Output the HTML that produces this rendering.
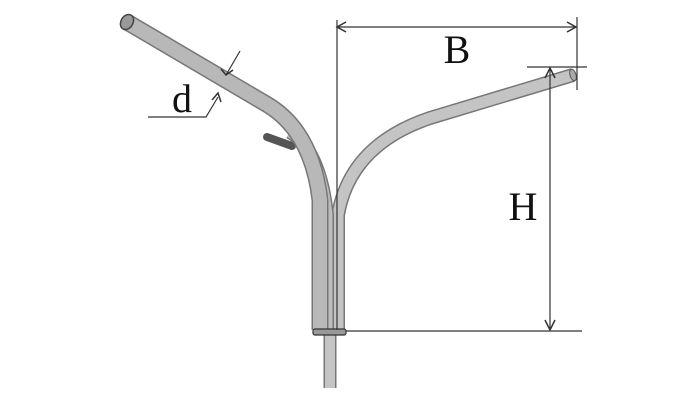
<!DOCTYPE html>
<html><head><style>body{margin:0;background:#fff}svg{display:block}</style></head>
<body><svg width="700" height="400" viewBox="0 0 700 400" xmlns="http://www.w3.org/2000/svg">
<g fill="none" stroke-linecap="butt">
<path d="M330 335 L330 388" stroke="#777" stroke-width="13"/>
<path d="M330 335 L330 388" stroke="#c4c4c4" stroke-width="10"/>
<path d="M267 137 L292 146" stroke="#555" stroke-width="8" stroke-linecap="round"/>
<path d="M573 75 L430 118 Q350 145 338 215 L338 330" stroke="#777" stroke-width="14"/>
<path d="M573 75 L430 118 Q350 145 338 215 L338 330" stroke="#c4c4c4" stroke-width="11"/>
<path d="M290 132 Q320 150 327 215 L327 330" stroke="#777" stroke-width="14"/>
<path d="M290 132 Q320 150 327 215 L327 330" stroke="#bdbdbd" stroke-width="11"/>
<path d="M127 22 L268 105 Q312 132 320 200 L320 330" stroke="#777" stroke-width="17"/>
<path d="M127 22 L268 105 Q312 132 320 200 L320 330" stroke="#b8b8b8" stroke-width="14"/>
<ellipse cx="127" cy="22" rx="6" ry="8" transform="rotate(31 127 22)" fill="#999" stroke="#444" stroke-width="1.5"/>
<ellipse cx="573" cy="75" rx="3" ry="6" transform="rotate(-17 573 75)" fill="#aaa" stroke="#555"/>
<rect x="313" y="329" width="33" height="6" rx="2" fill="#999" stroke="#333" stroke-width="1.2"/>
<g stroke="#333" stroke-width="1.2">
<path d="M337 20 L337 330"/>
<path d="M337 27 L576 27"/>
<path d="M577 17 L577 90"/>
<path d="M527 67 L587 67"/>
<path d="M550 68 L550 330"/>
<path d="M346 331 L582 331"/>
<path d="M346 22 L337 27 L346 32 M567 22 L576 27 L567 32" stroke-width="1.5"/>
<path d="M545 78 L550 68 L555 78 M545 320 L550 330 L555 320" stroke-width="1.5"/>
<path d="M148 117 L206 117 L218 97"/>
<path d="M240 51 L226 75"/>
<path d="M221 69 L226 75 L233 70" stroke-width="1.5"/>
<path d="M212 100 L218 93 L221 102" stroke-width="1.5"/>
</g>
</g>
<g font-family="Liberation Serif, serif" font-size="40" fill="#111" text-anchor="middle">
<text x="457" y="63">B</text>
<text x="523" y="220">H</text>
<text x="182" y="112">d</text>
</g>
</svg></body></html>
